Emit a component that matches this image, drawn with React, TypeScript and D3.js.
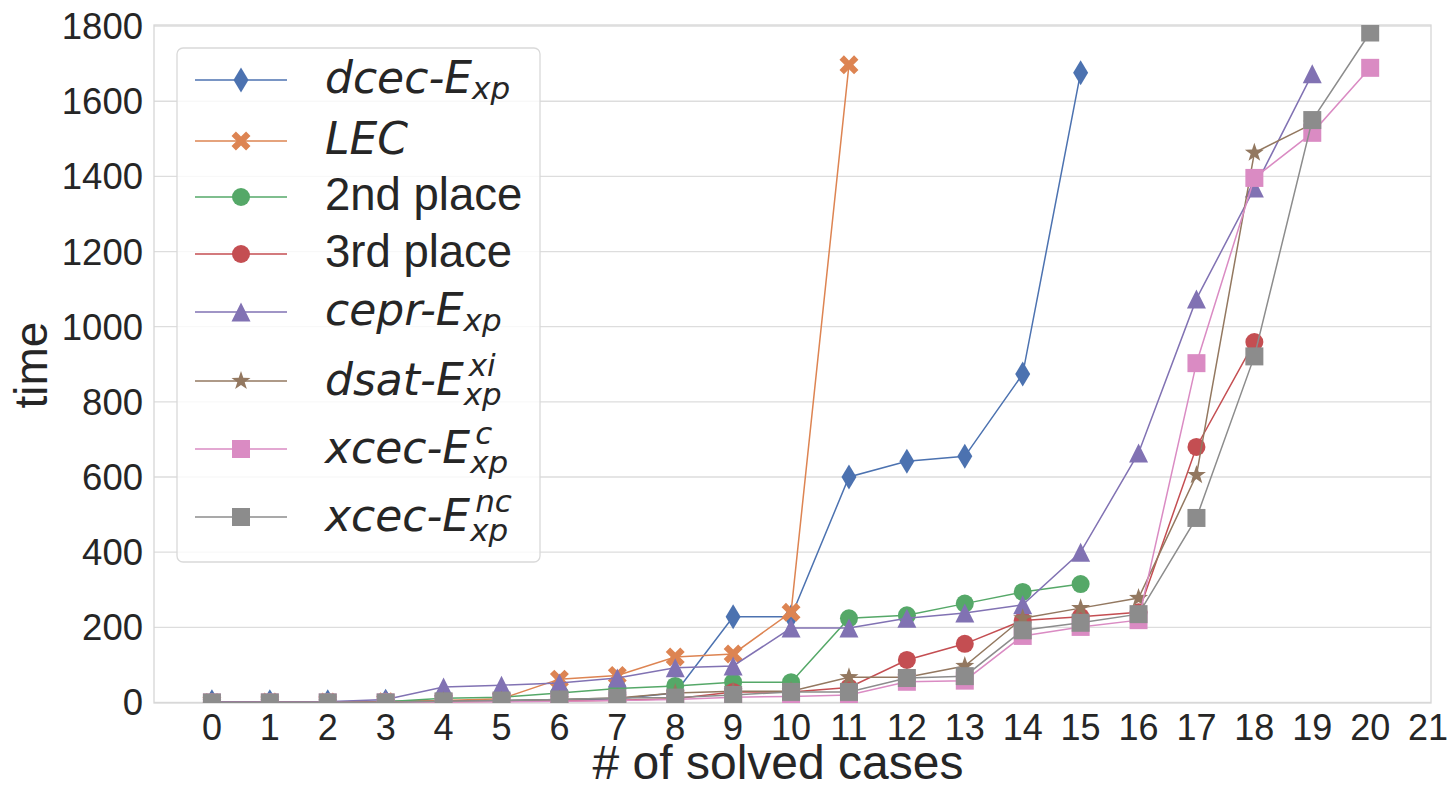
import React, { useEffect, useRef } from 'react';
import * as d3 from 'd3';

// solved cases (x) -> cumulative time (y), one array per solver
const dcec = [2, 2, 2, 3, 4, 5, 7, 10, 25, 228, 228, 600, 642, 655, 874, 1676];
const lec = [0, 1, 1, 2, 5, 10, 62, 72, 121, 129, 240, 1697];
const second = [0, 0, 1, 2, 11, 14, 25, 37, 44, 54, 54, 224, 232, 263, 294, 315];
const third = [0, 0, 0, 1, 2, 3, 4, 6, 10, 28, 28, 40, 113, 156, 218, 228, 240, 680, 959];
const cepr = [1, 1, 2, 8, 41, 46, 52, 65, 92, 97, 198, 198, 224, 238, 260, 400, 664, 1074, 1369, 1673];
const dsat = [0, 0, 0, 1, 3, 5, 8, 12, 25, 30, 30, 67, 67, 97, 224, 251, 278, 605, 1463, 1540];
const xcecC = [0, 0, 0, 0, 1, 2, 3, 5, 8, 14, 16, 20, 55, 58, 177, 201, 219, 903, 1396, 1516, 1689];
const xcecNc = [0, 0, 0, 0, 3, 5, 8, 12, 13, 20, 28, 28, 65, 70, 192, 212, 235, 491, 921, 1550, 1783];

const labelMain = ['dcec-E', 'LEC', '2nd place', '3rd place', 'cepr-E', 'dsat-E', 'xcec-E', 'xcec-E'];
const labelSup = ['', '', '', '', '', 'xi', 'c', 'nc'];
const labelSub = ['xp', '', '', '', 'xp', 'xp', 'xp', 'xp'];
const labelItalic = [true, true, false, false, true, true, true, true];

const colors = ['#4C72B0', '#DD8452', '#55A868', '#C44E52', '#8172B3', '#937860', '#DA8BC3', '#8C8C8C'];
const markers = ['diamond', 'x', 'circle', 'circle', 'triangle', 'star', 'square', 'square'];

const xTicks = [0, 1, 2, 3, 4, 5, 6, 7, 8, 9, 10, 11, 12, 13, 14, 15, 16, 17, 18, 19, 20, 21];
const yTicks = [0, 200, 400, 600, 800, 1000, 1200, 1400, 1600, 1800];

const allSeries = [dcec, lec, second, third, cepr, dsat, xcecC, xcecNc];

const markerPath = (kind) => {
    if (kind === 'diamond') return 'M0,-12.5L7.5,0L0,12.5L-7.5,0Z';
    if (kind === 'circle') return d3.arc()({ innerRadius: 0, outerRadius: 9, startAngle: 0, endAngle: 2 * Math.PI });
    if (kind === 'square') return 'M-9,-9L9,-9L9,9L-9,9Z';
    if (kind === 'triangle') return 'M0,-9.5L9.5,9.5L-9.5,9.5Z';
    if (kind === 'star') {
        const pts = d3.range(10).map((i) => {
            const r = i % 2 === 0 ? 10 : 3.9;
            const a = (i * Math.PI) / 5 - Math.PI / 2;
            return [r * Math.cos(a), r * Math.sin(a)];
        });
        return 'M' + pts.map((p) => p.join(',')).join('L') + 'Z';
    }
    // filled X
    const s = 10.3;
    const a = 3.1;
    const plus = [[a, s], [-a, s], [-a, a], [-s, a], [-s, -a], [-a, -a], [-a, -s], [a, -s], [a, -a], [s, -a], [s, a], [a, a]];
    const c = Math.SQRT1_2;
    const rot = plus.map(([x, y]) => [c * (x - y), c * (x + y)]);
    return 'M' + rot.map((p) => p.join(',')).join('L') + 'Z';
};

const App = () => {
    const svgRef = useRef();

    useEffect(() => {
        const svg = d3.select(svgRef.current);
        svg.selectAll('*').remove();
        const width = 1454;
        const height = 787;
        const plot = { left: 154, right: 1431, top: 25, bottom: 703 };
        const textColor = '#262626';
        const sans = 'Liberation Sans, Arial, sans-serif';

        const xScale = d3.scaleLinear().domain([-1, 21.05]).range([plot.left, plot.right]);
        const yScale = d3.scaleLinear().domain([-1.5, 1803]).range([plot.bottom, plot.top]);

        svg.append('rect').attr('width', width).attr('height', height).attr('fill', '#ffffff');

        svg.append('defs')
            .append('clipPath')
            .attr('id', 'plot-clip')
            .append('rect')
            .attr('x', plot.left)
            .attr('y', plot.top)
            .attr('width', plot.right - plot.left)
            .attr('height', plot.bottom - plot.top);

        // horizontal grid
        svg.append('g')
            .selectAll('line')
            .data(yTicks)
            .enter()
            .append('line')
            .attr('x1', plot.left)
            .attr('x2', plot.right)
            .attr('y1', (d) => yScale(d))
            .attr('y2', (d) => yScale(d))
            .attr('stroke', '#dddddd')
            .attr('stroke-width', 1.3);

        svg.append('rect')
            .attr('x', plot.left)
            .attr('y', plot.top)
            .attr('width', plot.right - plot.left)
            .attr('height', plot.bottom - plot.top)
            .attr('fill', 'none')
            .attr('stroke', '#d6d6d6')
            .attr('stroke-width', 1.3);

        // tick labels
        svg.append('g')
            .selectAll('text')
            .data(yTicks)
            .enter()
            .append('text')
            .attr('x', plot.left - 11)
            .attr('y', (d) => yScale(d) + 13)
            .attr('text-anchor', 'end')
            .attr('font-family', sans)
            .attr('font-size', 36.5)
            .attr('fill', textColor)
            .text((d) => d);

        svg.append('g')
            .selectAll('text')
            .data(xTicks)
            .enter()
            .append('text')
            .attr('x', (d) => xScale(d))
            .attr('y', plot.bottom + 37)
            .attr('text-anchor', 'middle')
            .attr('font-family', sans)
            .attr('font-size', 36)
            .attr('fill', textColor)
            .text((d) => d);

        // axis labels
        svg.append('text')
            .attr('x', 778)
            .attr('y', 779)
            .attr('text-anchor', 'middle')
            .attr('font-family', sans)
            .attr('font-size', 48)
            .attr('fill', textColor)
            .text('# of solved cases');

        svg.append('text')
            .attr('transform', 'translate(47,365) rotate(-90)')
            .attr('text-anchor', 'middle')
            .attr('font-family', sans)
            .attr('font-size', 46)
            .attr('fill', textColor)
            .text('time');

        // series
        const lines = svg.append('g').attr('clip-path', 'url(#plot-clip)');
        allSeries.forEach((values, i) => {
            const pts = values.map((v, k) => [k, v]);
            const line = d3
                .line()
                .x((d) => xScale(d[0]))
                .y((d) => yScale(d[1]));
            const g = lines.append('g');
            g.append('path')
                .attr('d', line(pts))
                .attr('fill', 'none')
                .attr('stroke', colors[i])
                .attr('stroke-width', 1.5);
            g.selectAll('path.m')
                .data(pts)
                .enter()
                .append('path')
                .attr('class', 'm')
                .attr('d', markerPath(markers[i]))
                .attr('transform', (d) => `translate(${xScale(d[0])},${yScale(d[1])})`)
                .attr('fill', colors[i]);
        });

        // legend
        const rowY = [80, 141, 197, 254, 312, 381, 449, 517];
        const legend = svg.append('g');
        legend.append('rect')
            .attr('x', 177)
            .attr('y', 48)
            .attr('width', 363)
            .attr('height', 514)
            .attr('rx', 6)
            .attr('fill', '#ffffff')
            .attr('fill-opacity', 0.8)
            .attr('stroke', '#d9d9d9')
            .attr('stroke-width', 1.3);

        labelMain.forEach((label, i) => {
            const y = rowY[i];
            legend.append('line')
                .attr('x1', 195)
                .attr('x2', 287)
                .attr('y1', y)
                .attr('y2', y)
                .attr('stroke', colors[i])
                .attr('stroke-width', 1.5);
            legend.append('path')
                .attr('d', markerPath(markers[i]))
                .attr('transform', `translate(241,${y})`)
                .attr('fill', colors[i]);

            const both = labelSup[i] && labelSub[i];
            const base = y + (both ? 14 : 13);
            const t = legend.append('text')
                .attr('x', 325)
                .attr('y', base)
                .attr('font-family', labelItalic[i] ? 'DejaVu Sans, sans-serif' : sans)
                .attr('font-style', labelItalic[i] ? 'italic' : 'normal')
                .attr('font-size', labelItalic[i] ? 44 : 45.5)
                .attr('fill', textColor)
                .text(label);
            const w = t.node().getComputedTextLength();
            const sx = 325 + w + 2;
            if (labelSup[i]) {
                legend.append('text')
                    .attr('x', sx + 3)
                    .attr('y', base - 19)
                    .attr('font-family', 'DejaVu Sans, sans-serif')
                    .attr('font-style', 'italic')
                    .attr('font-size', 31)
                    .attr('fill', textColor)
                    .text(labelSup[i]);
            }
            if (labelSub[i]) {
                legend.append('text')
                    .attr('x', sx - 2)
                    .attr('y', base + (both ? 10 : 6))
                    .attr('font-family', 'DejaVu Sans, sans-serif')
                    .attr('font-style', 'italic')
                    .attr('font-size', 31)
                    .attr('fill', textColor)
                    .text(labelSub[i]);
            }
        });
    }, []);

    return (
        <svg
            ref={svgRef}
            width={1454}
            height={787}
            style={{ position: 'absolute', left: 0, top: 0, display: 'block' }}
        />
    );
};

export default App;
